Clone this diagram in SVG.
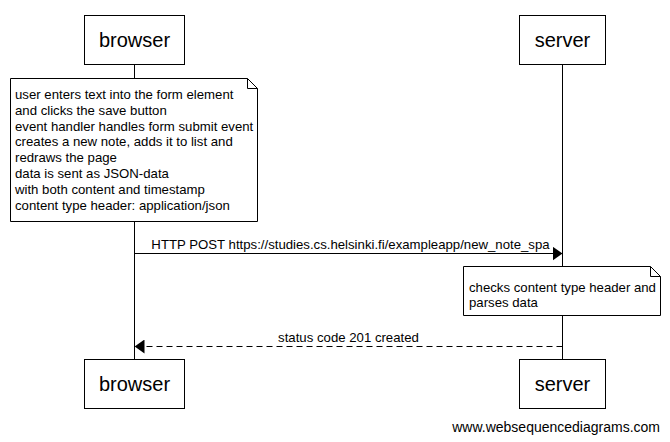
<svg xmlns="http://www.w3.org/2000/svg" width="670" height="442" viewBox="0 0 670 442">
<style>
.box{fill:#fff;stroke:#000;stroke-width:1}
.life{stroke:#000;stroke-width:1}
.title{font-family:"Liberation Sans",Arial,sans-serif;font-size:20px;fill:#000;text-anchor:middle}
.txt{font-family:"Liberation Sans",Arial,sans-serif;font-size:13.2px;fill:#000}
.msg{stroke:#000;stroke-width:1;fill:none}
.dash{stroke-dasharray:6,4}
</style>
<defs>
<marker id="ah" markerWidth="10" markerHeight="14" refX="10" refY="7" orient="auto" markerUnits="userSpaceOnUse">
<path d="M0,0 L10,7 L0,14 Z" fill="#000"/>
</marker>
</defs>
<g id="lifelines">
<line class="life" x1="134.5" y1="64" x2="134.5" y2="359"/>
<line class="life" x1="562.5" y1="64" x2="562.5" y2="359"/>
</g>
<g id="browser-top">
<rect class="box" x="84.5" y="15.5" width="100" height="49"/>
<text class="title" x="134.5" y="47">browser</text>
</g>
<g id="server-top">
<rect class="box" x="519.5" y="15.5" width="86" height="49"/>
<text class="title" x="562.5" y="47">server</text>
</g>
<g id="note-browser">
<path class="box" d="M10.5,78.5 H247.5 L257.5,88.5 V221.5 H10.5 Z"/>
<path class="msg" d="M247.5,78.5 V88.5 H257.5"/>
<text class="txt" x="15" y="99">user enters text into the form element</text>
<text class="txt" x="15" y="114.8">and clicks the save button</text>
<text class="txt" x="15" y="130.6">event handler handles form submit event</text>
<text class="txt" x="15" y="146.4">creates a new note, adds it to list and</text>
<text class="txt" x="15" y="162.2">redraws the page</text>
<text class="txt" x="15" y="178">data is sent as JSON-data</text>
<text class="txt" x="15" y="193.8">with both content and timestamp</text>
<text class="txt" x="15" y="209.6">content type header: application/json</text>
</g>
<g id="connectors">
<line class="msg" x1="134.5" y1="253.5" x2="562.5" y2="253.5" marker-end="url(#ah)"/>
<text class="txt" x="350.5" y="249" text-anchor="middle">HTTP POST https://studies.cs.helsinki.fi/exampleapp/new_note_spa</text>
<line class="msg dash" x1="562.5" y1="346.5" x2="134.5" y2="346.5" marker-end="url(#ah)"/>
<text class="txt" x="348.5" y="342" text-anchor="middle">status code 201 created</text>
</g>
<g id="note-server">
<path class="box" d="M463.5,266.5 H650.5 L660.5,276.5 V315.5 H463.5 Z"/>
<path class="msg" d="M650.5,266.5 V276.5 H660.5"/>
<text class="txt" x="469" y="292">checks content type header and</text>
<text class="txt" x="469" y="306.5">parses data</text>
</g>
<g id="browser-bottom">
<rect class="box" x="84.5" y="359.5" width="100" height="49"/>
<text class="title" x="134.5" y="391">browser</text>
</g>
<g id="server-bottom">
<rect class="box" x="519.5" y="359.5" width="86" height="49"/>
<text class="title" x="562.5" y="391">server</text>
</g>
<text x="660" y="432" font-family="Liberation Sans, Arial, sans-serif" font-size="14" text-anchor="end" fill="#000">www.websequencediagrams.com</text>
</svg>
